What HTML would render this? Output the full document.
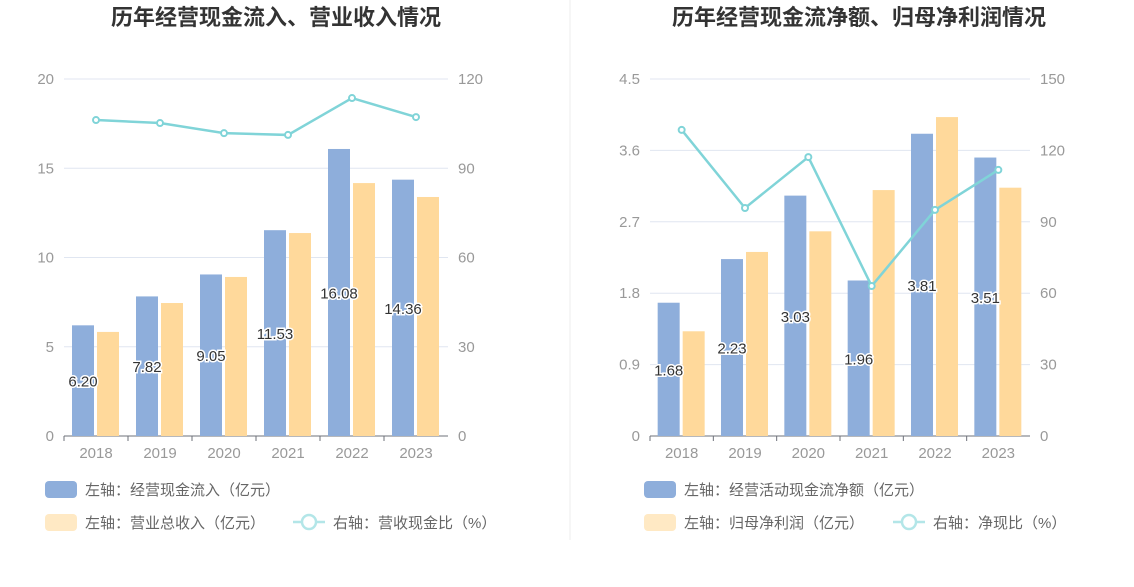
<!DOCTYPE html>
<html><head><meta charset="utf-8"><style>
body{margin:0;background:#fff;font-family:"Liberation Sans","Noto Sans CJK SC",sans-serif}
svg text{font-family:"Liberation Sans","Noto Sans CJK SC",sans-serif}
</style></head><body>
<svg id="svg" width="1134" height="582" xmlns="http://www.w3.org/2000/svg">
<line x1="570" y1="0" x2="570" y2="540" stroke="#eeeeee"/>
</svg>
<script>
const years=["2018","2019","2020","2021","2022","2023"];
const c1Inflow=[6.20,7.82,9.05,11.53,16.08,14.36];
const c1Revenue=[5.83,7.45,8.91,11.37,14.17,13.39];
const c1Ratio=[106.2,105.2,101.8,101.2,113.6,107.2];
const c1LeftTicks=["0","5","10","15","20"];
const c1RightTicks=["0","30","60","90","120"];
const c2NetCash=[1.68,2.23,3.03,1.96,3.81,3.51];
const c2Profit=[1.32,2.32,2.58,3.10,4.02,3.13];
const c2Ratio=[128.6,95.8,117.2,63.0,95.0,111.8];
const c2LeftTicks=["0","0.9","1.8","2.7","3.6","4.5"];
const c2RightTicks=["0","30","60","90","120","150"];

const svg=document.getElementById('svg');
const NS="http://www.w3.org/2000/svg";
function mk(tag,attrs,parent){const e=document.createElementNS(NS,tag);for(const k in attrs)e.setAttribute(k,attrs[k]);(parent||svg).appendChild(e);return e;}
function txt(s,attrs){const e=mk('text',attrs);e.textContent=s;return e;}

function chart(o){
  const top=79,bot=436,x0=o.x0,x1=o.x1;
  const g=mk('g',{});
  
  
  const lmax=o.lmax,rmax=o.rmax;
  const yL=v=>bot-(v/lmax)*(bot-top);
  const yR=v=>bot-(v/rmax)*(bot-top);
  const step=(x1-x0)/years.length;
  const xc=i=>x0+step*(i+0.5);
  const t=txt(o.title,{x:o.tx,y:25,'text-anchor':'middle','font-size':22,'font-weight':'bold',fill:'#333'});
  
  o.lt.forEach((s,i)=>{
    const y=bot-i*(bot-top)/(o.lt.length-1);
    if(i>0){const l=mk('line',{x1:x0,x2:x1,y1:y,y2:y,stroke:'#e0e6f1'},g);}
    const a=txt(s,{x:x0-10,y:y+5,'text-anchor':'end','font-size':15,fill:'#999'});
    
    const b=txt(o.rt[i],{x:x1+10,y:y+5,'text-anchor':'start','font-size':15,fill:'#999'});
    
  });
  const ax=mk('line',{x1:x0,x2:x1,y1:bot,y2:bot,stroke:'#6e7079'},g);
  
  years.forEach((yr,i)=>{
    mk('line',{x1:x0+step*i,x2:x0+step*i,y1:bot,y2:bot+5,stroke:'#6e7079'},g);
    const l=txt(yr,{x:xc(i),y:bot+22,'text-anchor':'middle','font-size':15,fill:'#999'});
    
    const bw=22;
    const b1=mk('rect',{x:xc(i)-bw-2,y:yL(o.a[i]),width:bw,height:bot-yL(o.a[i]),fill:'#8eaedb'},g);
    
    const b2=mk('rect',{x:xc(i)+1,y:yL(o.b[i]),width:bw,height:bot-yL(o.b[i]),fill:'#ffd99b'},g);
    
  });
  years.forEach((yr,i)=>{
    const v=txt(o.a[i].toFixed(2),{x:xc(i)-13,y:(yL(o.a[i])+bot)/2+6,'text-anchor':'middle','font-size':15,fill:'#333',stroke:'#fff','stroke-width':3,'paint-order':'stroke'});
    
  });
  const pts=o.r.map((v,i)=>xc(i)+','+yR(v)).join(' ');
  const pl=mk('polyline',{points:pts,fill:'none',stroke:'#80d4d8','stroke-width':2.5},g);
  
  o.r.forEach((v,i)=>{const c=mk('circle',{cx:xc(i),cy:yR(v),r:3,fill:'#fff',stroke:'#80d4d8','stroke-width':2},g);
    });
  const lx=o.lx;
  const r1=mk('rect',{x:lx,y:481,width:32,height:17,rx:4,fill:'#8eaedb'});
  
  const t1=txt(o.l1,{x:lx+40,y:495,'font-size':15,fill:'#666'});
  
  const r2=mk('rect',{x:lx,y:514,width:32,height:17,rx:4,fill:'#ffe9c4'});
  
  const t2=txt(o.l2,{x:lx+40,y:528,'font-size':15,fill:'#666'});
  
  mk('line',{x1:o.lix,x2:o.lix+32,y1:522,y2:522,stroke:'#b3e6e8','stroke-width':2.5});
  mk('circle',{cx:o.lix+16,cy:522,r:7,fill:'#fff',stroke:'#b3e6e8','stroke-width':2.5});
  const t3=txt(o.l3,{x:o.lix+40,y:528,'font-size':15,fill:'#666'});
  
}
chart({name:'cash-inflow-chart',title:'历年经营现金流入、营业收入情况',tx:276,x0:64,x1:448,lmax:20,rmax:120,lt:c1LeftTicks,rt:c1RightTicks,a:c1Inflow,b:c1Revenue,r:c1Ratio,lx:45,lix:293,
  l1:'左轴：经营现金流入（亿元）',l2:'左轴：营业总收入（亿元）',l3:'右轴：营收现金比（%）'});
chart({name:'net-cash-chart',title:'历年经营现金流净额、归母净利润情况',tx:859,x0:650,x1:1030,lmax:4.5,rmax:150,lt:c2LeftTicks,rt:c2RightTicks,a:c2NetCash,b:c2Profit,r:c2Ratio,lx:644,lix:893,
  l1:'左轴：经营活动现金流净额（亿元）',l2:'左轴：归母净利润（亿元）',l3:'右轴：净现比（%）'});
</script>
</body></html>
